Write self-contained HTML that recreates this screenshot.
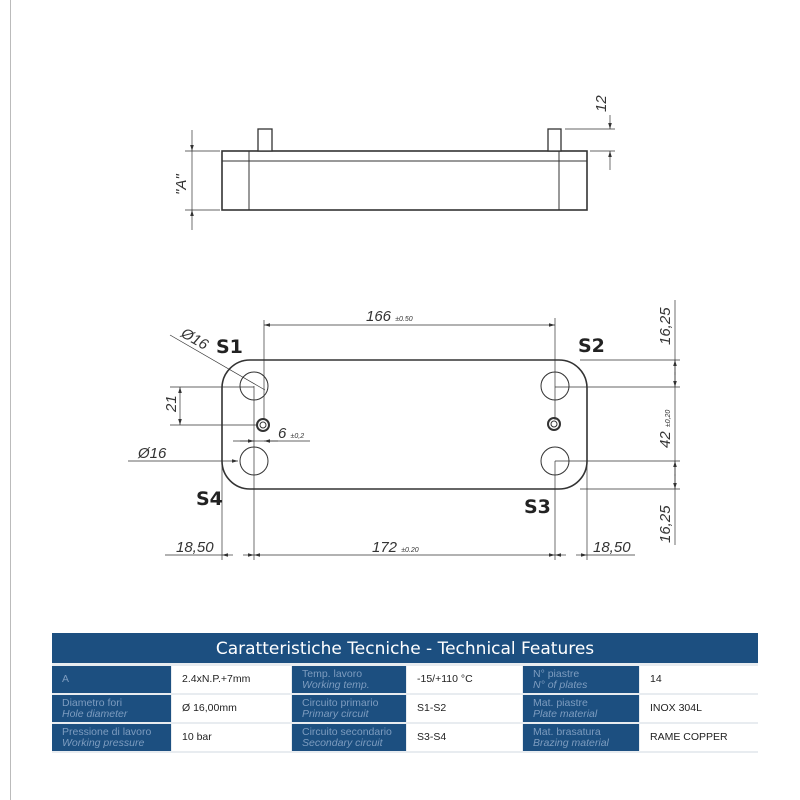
<!DOCTYPE html><html><head><style>
body{margin:0;width:800px;height:800px;background:#fff;position:relative;overflow:hidden;font-family:"Liberation Sans",sans-serif}
.t{position:absolute;left:52px;top:633px;width:706px;height:120px;background:#e8ecf0}
.h{position:absolute;left:0;top:0;width:706px;height:30px;background:#1c4f80;color:#fff;font-size:17px;text-align:center;line-height:32px;font-family:"DejaVu Sans",sans-serif}
.c{position:absolute;height:27px;font-size:10.5px;box-sizing:border-box;padding-left:10px}
.b{background:#1c4f80;color:#7d9cbf;line-height:11px;padding-top:3px}
.w{background:#fff;color:#222;line-height:27px}
i{font-style:italic}
</style></head><body>
<div style="position:absolute;left:10px;top:0;width:1px;height:800px;background:#bbb"></div>
<svg width="800" height="630" style="position:absolute;left:0;top:0" font-family="Liberation Sans" >
<defs><marker id="a" viewBox="0 0 10 10" refX="10" refY="5" markerWidth="10" markerHeight="6" markerUnits="userSpaceOnUse" orient="auto-start-reverse"><path d="M0,2L10,5L0,8z" fill="#333"/></marker></defs>
<g stroke="#333" fill="none" stroke-width="1">
<rect x="222" y="151" width="365" height="59" stroke-width="1.6"/>
<line x1="222" y1="161" x2="587" y2="161"/>
<line x1="249" y1="151" x2="249" y2="210"/><line x1="559" y1="151" x2="559" y2="210"/>
<rect x="258" y="129" width="14" height="22" fill="#fff" stroke-width="1.3"/><rect x="548" y="129" width="13" height="22" fill="#fff" stroke-width="1.3"/>
<line x1="185" y1="151" x2="220" y2="151" stroke-width=".7"/><line x1="185" y1="210" x2="220" y2="210" stroke-width=".7"/>
<line x1="192" y1="130" x2="192" y2="151" stroke-width=".7" marker-end="url(#a)"/>
<line x1="192" y1="230" x2="192" y2="210" stroke-width=".7" marker-end="url(#a)"/>
<line x1="192" y1="151" x2="192" y2="210" stroke-width=".7"/>
<line x1="565" y1="129" x2="615" y2="129" stroke-width=".7"/><line x1="590" y1="151" x2="615" y2="151" stroke-width=".7"/>
<line x1="610" y1="115" x2="610" y2="129" stroke-width=".7" marker-end="url(#a)"/>
<line x1="610" y1="170" x2="610" y2="151" stroke-width=".7" marker-end="url(#a)"/>
<rect x="222" y="360" width="365" height="129" rx="28" stroke-width="1.6"/>
<circle cx="254" cy="386" r="14"/><circle cx="254" cy="461" r="14"/>
<circle cx="555" cy="386" r="14"/><circle cx="555" cy="461" r="14"/>
<circle cx="263" cy="425" r="6" stroke-width="2"/><circle cx="263" cy="425" r="3"/>
<circle cx="554" cy="424" r="6" stroke-width="2"/><circle cx="554" cy="424" r="3"/>
<g stroke-width=".7">
<line x1="264" y1="320" x2="264" y2="420"/><line x1="555" y1="318" x2="555" y2="420"/>
<line x1="264" y1="325" x2="555" y2="325" marker-start="url(#a)" marker-end="url(#a)"/>
<line x1="170" y1="335" x2="265" y2="390"/>
<line x1="170" y1="387" x2="254" y2="387"/><line x1="170" y1="425" x2="258" y2="425"/>
<line x1="180" y1="387" x2="180" y2="425" marker-start="url(#a)" marker-end="url(#a)"/>
<line x1="233" y1="441" x2="310" y2="441"/>
<line x1="240" y1="441" x2="254" y2="441" marker-end="url(#a)"/><line x1="278" y1="441" x2="264" y2="441" marker-end="url(#a)"/>
<line x1="128" y1="461" x2="238" y2="461" marker-end="url(#a)"/>
<line x1="254" y1="386" x2="254" y2="560"/><line x1="555" y1="461" x2="555" y2="560"/>
<line x1="222" y1="460" x2="222" y2="560"/><line x1="587" y1="460" x2="587" y2="560"/>
<line x1="165" y1="555" x2="222" y2="555"/><line x1="587" y1="555" x2="635" y2="555"/>
<line x1="254" y1="555" x2="555" y2="555" marker-start="url(#a)" marker-end="url(#a)"/>
<line x1="233" y1="555" x2="222" y2="555" marker-end="url(#a)"/><line x1="243" y1="555" x2="254" y2="555" marker-end="url(#a)"/>
<line x1="566" y1="555" x2="555" y2="555" marker-end="url(#a)"/><line x1="576" y1="555" x2="587" y2="555" marker-end="url(#a)"/>
<line x1="580" y1="360" x2="680" y2="360"/><line x1="555" y1="387" x2="680" y2="387"/>
<line x1="555" y1="461" x2="680" y2="461"/><line x1="580" y1="489" x2="680" y2="489"/>
<line x1="675" y1="300" x2="675" y2="545"/>
<line x1="675" y1="375" x2="675" y2="360" marker-end="url(#a)"/><line x1="675" y1="372" x2="675" y2="387" marker-end="url(#a)"/>
<line x1="675" y1="476" x2="675" y2="461" marker-end="url(#a)"/><line x1="675" y1="474" x2="675" y2="489" marker-end="url(#a)"/>
</g></g>
<g fill="#333" font-style="italic" font-size="15">
<text transform="translate(186,195) rotate(-90)">"A"</text>
<text transform="translate(606,112) rotate(-90)">12</text>
<text x="366" y="321">166 <tspan font-size="7">±0.50</tspan></text>
<text transform="translate(180,336) rotate(30)">Ø16</text>
<text transform="translate(176,412) rotate(-90)">21</text>
<text x="278" y="438">6 <tspan font-size="7">±0,2</tspan></text>
<text x="138" y="458">Ø16</text>
<text x="176" y="552">18,50</text><text x="593" y="552">18,50</text>
<text x="372" y="552">172 <tspan font-size="7">±0.20</tspan></text>
<text transform="translate(670,345) rotate(-90)">16,25</text>
<text transform="translate(670,448) rotate(-90)">42 <tspan font-size="7">±0,20</tspan></text>
<text transform="translate(670,543) rotate(-90)">16,25</text>
</g>
<g fill="#222" font-weight="bold" font-size="19" font-family="DejaVu Sans">
<text x="216" y="353">S1</text><text x="578" y="352">S2</text>
<text x="196" y="505">S4</text><text x="524" y="513">S3</text>
</g>
</svg>
<div class="t"><div class="h">Caratteristiche Tecniche - Technical Features</div>
<div class="c b" style="left:0;top:33px;width:119px;line-height:21px;padding-top:3px">A</div>
<div class="c w" style="left:120px;top:33px;width:119px">2.4xN.P.+7mm</div>
<div class="c b" style="left:240px;top:33px;width:114px">Temp. lavoro<br><i>Working temp.</i></div>
<div class="c w" style="left:355px;top:33px;width:115px">-15/+110 °C</div>
<div class="c b" style="left:471px;top:33px;width:116px">N° piastre<br><i>N° of plates</i></div>
<div class="c w" style="left:588px;top:33px;width:118px">14</div>
<div class="c b" style="left:0;top:62px;width:119px">Diametro fori<br><i>Hole diameter</i></div>
<div class="c w" style="left:120px;top:62px;width:119px">Ø 16,00mm</div>
<div class="c b" style="left:240px;top:62px;width:114px">Circuito primario<br><i>Primary circuit</i></div>
<div class="c w" style="left:355px;top:62px;width:115px">S1-S2</div>
<div class="c b" style="left:471px;top:62px;width:116px">Mat. piastre<br><i>Plate material</i></div>
<div class="c w" style="left:588px;top:62px;width:118px">INOX 304L</div>
<div class="c b" style="left:0;top:91px;width:119px">Pressione di lavoro<br><i>Working pressure</i></div>
<div class="c w" style="left:120px;top:91px;width:119px">10 bar</div>
<div class="c b" style="left:240px;top:91px;width:114px">Circuito secondario<br><i>Secondary circuit</i></div>
<div class="c w" style="left:355px;top:91px;width:115px">S3-S4</div>
<div class="c b" style="left:471px;top:91px;width:116px">Mat. brasatura<br><i>Brazing material</i></div>
<div class="c w" style="left:588px;top:91px;width:118px">RAME COPPER</div>
</div>
</body></html>
